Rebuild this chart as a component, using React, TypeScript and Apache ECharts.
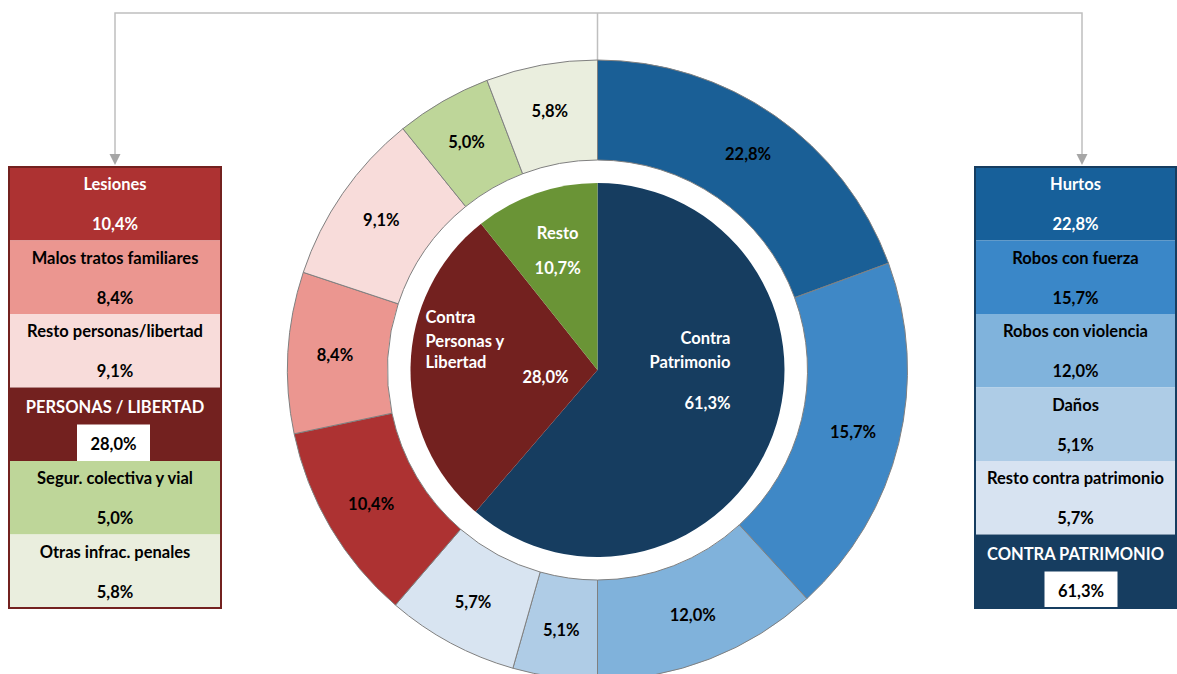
import React, { useEffect, useRef } from 'react';
import * as echarts from 'echarts';

// ---------- data ----------
const outerNames = [
  'Hurtos', 'Robos con fuerza', 'Robos con violencia', 'Daños', 'Resto contra patrimonio',
  'Lesiones', 'Malos tratos familiares', 'Resto personas/libertad',
  'Segur. colectiva y vial', 'Otras infrac. penales',
];
// percentages printed in the labels
const outerValues = [22.8, 15.7, 12.0, 5.1, 5.7, 10.4, 8.4, 9.1, 5.0, 5.8];
// share of the ring each segment actually occupies in the picture
const outerDrawnShares = [19.4, 18.8, 11.8, 4.4, 6.9, 10.4, 8.4, 9.1, 5.0, 5.8];
const outerColors = [
  '#1A5F96', '#3F88C6', '#80B2DB', '#AFCCE6', '#D8E4F1',
  '#AD3232', '#EB9690', '#F8DCDA', '#BED699', '#EAEEDE',
];

const innerNames = ['Contra Patrimonio', 'Contra Personas y Libertad', 'Resto'];
const innerValues = [61.3, 28.0, 10.7];
const innerColors = ['#163D60', '#73211F', '#6A9436'];
const innerLabelLines = [['Contra', 'Patrimonio'], ['Contra', 'Personas y', 'Libertad'], ['Resto']];

const leftBoxLabels = ['Lesiones', 'Malos tratos familiares', 'Resto personas/libertad', 'PERSONAS / LIBERTAD', 'Segur. colectiva y vial', 'Otras infrac. penales'];
const leftBoxValues = [10.4, 8.4, 9.1, 28.0, 5.0, 5.8];
const leftBoxFills = ['#AD3232', '#EB9690', '#F8DCDA', '#73211F', '#BED699', '#EAEEDE'];
const leftBoxTextColors = ['#FFFFFF', '#000000', '#000000', '#FFFFFF', '#000000', '#000000'];
const leftBoxTotalIndex = 3;

const rightBoxLabels = ['Hurtos', 'Robos con fuerza', 'Robos con violencia', 'Daños', 'Resto contra patrimonio', 'CONTRA PATRIMONIO'];
const rightBoxValues = [22.8, 15.7, 12.0, 5.1, 5.7, 61.3];
const rightBoxFills = ['#17609A', '#3A87C8', '#80B3DC', '#AECCE6', '#D7E3F1', '#163D60'];
const rightBoxTextColors = ['#FFFFFF', '#000000', '#000000', '#000000', '#000000', '#FFFFFF'];
const rightBoxTotalIndex = 5;

const FONT = 'Lato, "Open Sans", sans-serif';
const fmt = (v: number) => v.toFixed(1).replace('.', ',') + '%';

function buildBox(
  labels: string[], values: number[], fills: string[], textColors: string[],
  totalIndex: number, x: number, w: number, border: string, valueBoxCx: number,
) {
  const top = 167;
  const rowH = 73.5;
  const els: any[] = [];
  labels.forEach((lab, i) => {
    const y = top + i * rowH;
    els.push({
      type: 'rect', shape: { x, y, width: w, height: rowH },
      style: { fill: fills[i] }, silent: true,
    });
    const isTotal = i === totalIndex;
    els.push({
      type: 'text', x: x + w / 2, y: y + (isTotal ? 19 : 17),
      style: {
        text: lab, fill: textColors[i], font: `bold 16.5px ${FONT}`,
        align: 'center', verticalAlign: 'middle',
      }, silent: true,
    });
    if (isTotal) {
      els.push({
        type: 'rect', shape: { x: valueBoxCx - 36.5, y: y + 37, width: 73, height: 37 },
        style: { fill: '#FFFFFF' }, silent: true,
      });
    }
    els.push({
      type: 'text', x: isTotal ? valueBoxCx : x + w / 2, y: y + (isTotal ? 56 : 57),
      style: {
        text: fmt(values[i]), fill: isTotal ? '#000000' : textColors[i], font: `bold 16.5px ${FONT}`,
        align: 'center', verticalAlign: 'middle',
      }, silent: true,
    });
  });
  els.push({
    type: 'rect', shape: { x, y: top, width: w, height: rowH * labels.length },
    style: { fill: 'none', stroke: border, lineWidth: 2 }, silent: true,
  });
  return els;
}

export default function App() {
  const ref = useRef<HTMLDivElement>(null);
  useEffect(() => {
    if (!ref.current) return;
    const chart = echarts.init(ref.current, null, { renderer: 'svg' });
    const cx = 597.5;
    const cy = 370;
    const txt = { color: '#fff', fontWeight: 'bold', fontSize: 16.5, fontFamily: FONT };

    const innerLabelCfg: any[] = [
      {
        offset: [2, -25],
        formatter: () =>
          `{r|${innerLabelLines[0][0]}}\n{r|${innerLabelLines[0][1]}}\n{rv|${fmt(innerValues[0])}}`,
        rich: {
          r: { align: 'right', lineHeight: 24, ...txt },
          rv: { align: 'right', lineHeight: 58, ...txt },
        },
      },
      {
        offset: [-4, -16],
        formatter: () =>
          `{l|${innerLabelLines[1][0]}}\n{l|${innerLabelLines[1][1]}}\n{lt|${innerLabelLines[1][2]}}{lv|${fmt(innerValues[1])}}`,
        rich: {
          l: { align: 'left', lineHeight: 24.5, ...txt },
          lt: { align: 'left', lineHeight: 24.5, verticalAlign: 'top', ...txt },
          lv: { align: 'left', lineHeight: 46, padding: [0, 0, 0, 36], ...txt },
        },
      },
      {
        offset: [-8, -23],
        formatter: () => `{c|${innerLabelLines[2][0]}}\n{cv|${fmt(innerValues[2])}}`,
        rich: {
          c: { align: 'center', lineHeight: 24, ...txt },
          cv: { align: 'center', lineHeight: 46, ...txt },
        },
      },
    ];

    const graphics: any[] = [
      {
        type: 'polyline', silent: true,
        shape: { points: [[115, 156], [115, 13], [1082, 13], [1082, 156]] },
        style: { stroke: '#BFBFBF', lineWidth: 1.5, fill: 'none' },
      },
      {
        type: 'line', silent: true,
        shape: { x1: cx, y1: 13, x2: cx, y2: 60 },
        style: { stroke: '#BFBFBF', lineWidth: 1.5 },
      },
      {
        type: 'polygon', silent: true,
        shape: { points: [[109.5, 154], [120.5, 154], [115, 165]] },
        style: { fill: '#A6A6A6' },
      },
      {
        type: 'polygon', silent: true,
        shape: { points: [[1076.5, 154], [1087.5, 154], [1082, 165]] },
        style: { fill: '#A6A6A6' },
      },
      ...buildBox(leftBoxLabels, leftBoxValues, leftBoxFills, leftBoxTextColors, leftBoxTotalIndex, 9, 212, '#73211F', 113.5),
      ...buildBox(rightBoxLabels, rightBoxValues, rightBoxFills, rightBoxTextColors, rightBoxTotalIndex, 975, 201, '#163D60', 1081),
    ];

    chart.setOption({
      animation: false,
      graphic: graphics,
      series: [
        {
          type: 'pie',
          silent: true,
          center: [cx, cy],
          radius: [210, 310],
          startAngle: 90,
          clockwise: true,
          avoidLabelOverlap: false,
          itemStyle: { borderColor: '#808080', borderWidth: 1 },
          label: {
            show: true, position: 'inside', color: '#000', fontWeight: 'bold',
            fontSize: 16.5, fontFamily: FONT,
            formatter: (p: any) => fmt(outerValues[p.dataIndex]),
          },
          labelLine: { show: false },
          emphasis: { disabled: true },
          data: outerNames.map((n, i) => ({
            name: n, value: outerDrawnShares[i], itemStyle: { color: outerColors[i] },
          })),
        },
        {
          type: 'pie',
          silent: true,
          center: [cx, cy],
          radius: [0, 187],
          startAngle: 90,
          clockwise: true,
          avoidLabelOverlap: false,
          itemStyle: { borderWidth: 0 },
          label: { show: true, position: 'inside' },
          labelLine: { show: false },
          emphasis: { disabled: true },
          data: innerNames.map((n, i) => ({
            name: n, value: innerValues[i], itemStyle: { color: innerColors[i] },
            label: innerLabelCfg[i],
          })),
        },
      ],
    });
    return () => chart.dispose();
  }, []);
  return (
    <div
      ref={ref}
      style={{ position: 'absolute', left: 0, top: 0, width: 1177, height: 674, background: '#fff' }}
    />
  );
}
